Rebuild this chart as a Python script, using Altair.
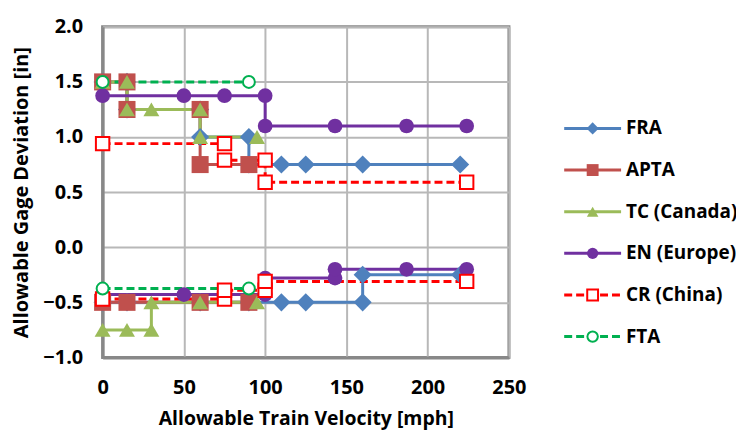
import altair as alt
import pandas as pd

# ---------------- data ----------------
series_names = ["FRA", "APTA", "TC (Canada)", "EN (Europe)", "CR (China)", "FTA"]
filled_series = ["FRA", "APTA", "TC (Canada)", "EN (Europe)"]
open_series = ["CR (China)", "FTA"]

fra_upper_x = [0, 15, 15, 60, 60, 90, 90, 110, 125, 160, 220]
fra_upper_y = [1.5, 1.5, 1.25, 1.25, 1.0, 1.0, 0.75, 0.75, 0.75, 0.75, 0.75]
fra_lower_x = [0, 15, 60, 90, 110, 125, 160, 160, 220]
fra_lower_y = [-0.5, -0.5, -0.5, -0.5, -0.5, -0.5, -0.5, -0.25, -0.25]

apta_upper_x = [0, 15, 15, 60, 60, 90]
apta_upper_y = [1.5, 1.5, 1.25, 1.25, 0.75, 0.75]
apta_lower_x = [0, 15, 60, 90]
apta_lower_y = [-0.5, -0.5, -0.5, -0.5]

tc_upper_x = [0, 15, 15, 30, 60, 60, 95]
tc_upper_y = [1.5, 1.5, 1.25, 1.25, 1.25, 1.0, 1.0]
tc_lower_x = [0, 15, 30, 30, 60, 95]
tc_lower_y = [-0.75, -0.75, -0.75, -0.5, -0.5, -0.5]

en_upper_x = [0, 50, 75, 100, 100, 143, 187, 224]
en_upper_y = [1.375, 1.375, 1.375, 1.375, 1.1, 1.1, 1.1, 1.1]
en_lower_x = [0, 50, 75, 100, 100, 143, 143, 187, 224]
en_lower_y = [-0.43, -0.43, -0.43, -0.43, -0.28, -0.28, -0.2, -0.2, -0.2]

cr_upper_x = [0, 75, 75, 100, 100, 224]
cr_upper_y = [0.94, 0.94, 0.79, 0.79, 0.59, 0.59]
cr_lower_x = [0, 75, 75, 100, 100, 224]
cr_lower_y = [-0.47, -0.47, -0.39, -0.39, -0.31, -0.31]

fta_upper_x = [0, 90]
fta_upper_y = [1.5, 1.5]
fta_lower_x = [0, 90]
fta_lower_y = [-0.375, -0.375]

x_ticks = [0, 50, 100, 150, 200, 250]
y_ticks = [-1.0, -0.5, 0.0, 0.5, 1.0, 1.5, 2.0]

# ---------------- table ----------------
parts = [
    ("FRA", "upper", fra_upper_x, fra_upper_y),
    ("FRA", "lower", fra_lower_x, fra_lower_y),
    ("APTA", "upper", apta_upper_x, apta_upper_y),
    ("APTA", "lower", apta_lower_x, apta_lower_y),
    ("TC (Canada)", "upper", tc_upper_x, tc_upper_y),
    ("TC (Canada)", "lower", tc_lower_x, tc_lower_y),
    ("EN (Europe)", "upper", en_upper_x, en_upper_y),
    ("EN (Europe)", "lower", en_lower_x, en_lower_y),
    ("CR (China)", "upper", cr_upper_x, cr_upper_y),
    ("CR (China)", "lower", cr_lower_x, cr_lower_y),
    ("FTA", "upper", fta_upper_x, fta_upper_y),
    ("FTA", "lower", fta_lower_x, fta_lower_y),
]
rows = []
for s, p, xs, ys in parts:
    for i, (xv, yv) in enumerate(zip(xs, ys)):
        rows.append({"series": s, "key": s + "-" + p, "ord": i, "x": xv, "y": yv})
df = pd.DataFrame(rows)
df_filled = df[df["series"].isin(filled_series)]
df_open = df[df["series"].isin(open_series)]

legend_df = pd.DataFrame({"series": series_names, "idx": list(range(len(series_names)))})
legend_filled = legend_df[legend_df["series"].isin(filled_series)]
legend_open = legend_df[legend_df["series"].isin(open_series)]

# ---------------- styles ----------------
colors = ["#4F81BD", "#C0504D", "#9BBB59", "#7030A0", "#FF0000", "#00B050"]
shapes = ["diamond", "square", "triangle-up", "circle", "square", "circle"]
sizes_main = [330, 144, 190, 196, 110, 95]
sizes_leg = [150, 110, 140, 150, 90, 80]
dashes = [[1, 0], [1, 0], [1, 0], [1, 0], [8, 4], [8, 4]]

FONT = "Open Sans"
color_scale = alt.Scale(domain=series_names, range=colors)
shape_scale = alt.Scale(domain=series_names, range=shapes)
dash_scale = alt.Scale(domain=series_names, range=dashes)

x_scale = alt.Scale(domain=[0, 250], nice=False, zero=False)
y_scale = alt.Scale(domain=[-1.0, 2.0], nice=False, zero=False)

x_enc = alt.X(
    "x:Q", scale=x_scale,
    axis=alt.Axis(values=x_ticks, title="Allowable Train Velocity [mph]", grid=True,
                  ticks=False, labelFlush=False, labelPadding=20, titleY=61,
                  titleFontSize=19.5, titleBaseline="middle", format="d"),
)
y_enc = alt.Y(
    "y:Q", scale=y_scale,
    axis=alt.Axis(values=y_ticks, title="Allowable Gage Deviation [in]", grid=True,
                  ticks=False, labelFlush=False, labelPadding=20, format=".1f",
                  titleX=-81, titleY=166, titleAngle=-90, titleAlign="center",
                  titleBaseline="middle"),
)

color_enc = alt.Color("series:N", scale=color_scale, legend=None)
shape_enc = alt.Shape("series:N", scale=shape_scale, legend=None)
size_main = alt.Size("series:N", scale=alt.Scale(domain=series_names, range=sizes_main), legend=None)
size_leg = alt.Size("series:N", scale=alt.Scale(domain=series_names, range=sizes_leg), legend=None)

lines = alt.Chart(df).mark_line(strokeWidth=3).encode(
    x=x_enc, y=y_enc,
    color=color_enc,
    strokeDash=alt.StrokeDash("series:N", scale=dash_scale, legend=None),
    detail="key:N",
    order="ord:Q",
)

points_filled = alt.Chart(df_filled).mark_point(filled=True, opacity=1).encode(
    x=x_enc, y=y_enc, color=color_enc, shape=shape_enc, size=size_main,
)
points_open = alt.Chart(df_open).mark_point(
    filled=False, fill="#FFFFFF", fillOpacity=1, opacity=1, strokeWidth=2
).encode(
    x=x_enc, y=y_enc, color=color_enc, shape=shape_enc, size=size_main,
)

# ---------------- legend (drawn to the right of the plot) ----------------
LEG_X0, LEG_X1, LEG_TXT = 284, 319, 322
leg_y = alt.Y("idx:Q", scale=alt.Scale(domain=[-2.44, 5.5], reverse=True, nice=False, zero=False), axis=None)

leg_lines = alt.Chart(legend_df).mark_rule(strokeWidth=3).encode(
    x=alt.datum(LEG_X0), x2=alt.datum(LEG_X1), y=leg_y,
    color=color_enc,
    strokeDash=alt.StrokeDash("series:N", scale=dash_scale, legend=None),
)
leg_points_filled = alt.Chart(legend_filled).mark_point(filled=True, opacity=1).encode(
    x=alt.datum((LEG_X0 + LEG_X1) / 2), y=leg_y, color=color_enc, shape=shape_enc, size=size_leg,
)
leg_points_open = alt.Chart(legend_open).mark_point(
    filled=False, fill="#FFFFFF", fillOpacity=1, opacity=1, strokeWidth=2
).encode(
    x=alt.datum((LEG_X0 + LEG_X1) / 2), y=leg_y, color=color_enc, shape=shape_enc, size=size_leg,
)
leg_text = alt.Chart(legend_df).mark_text(
    align="left", baseline="middle", font=FONT, fontSize=19, fontWeight="bold", color="#000000"
).encode(x=alt.datum(LEG_TXT), y=leg_y, text="series:N")

main = alt.layer(lines, points_filled, points_open)
legend = alt.layer(leg_lines, leg_points_filled, leg_points_open, leg_text)

chart = (
    alt.layer(main, legend)
    .resolve_scale(y="independent", size="independent")
    .properties(
        width=408, height=332,
        autosize=alt.AutoSizeParams(type="none"),
        padding={"left": 95, "top": 18, "right": 228, "bottom": 76},
    )
    .configure_view(stroke="#888888", strokeWidth=3)
    .configure_axis(
        gridColor="#B8B8B8", gridWidth=2, domainColor="#888888", domainWidth=3,
        labelFont=FONT, labelFontSize=20, labelFontWeight="bold", labelColor="#000000",
        titleFont=FONT, titleFontSize=20, titleFontWeight="bold", titleColor="#000000",
    )
)

chart.save("out.html", embed_options={"renderer": "svg", "actions": False})
